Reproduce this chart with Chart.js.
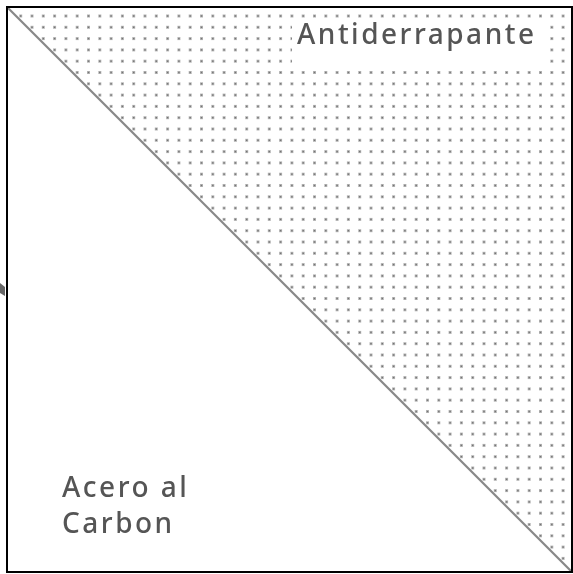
<!DOCTYPE html>
<html>
<head>
<meta charset="utf-8">
<script src="https://cdn.jsdelivr.net/npm/chart.js@4/dist/chart.umd.min.js"></script>
<style>
  html, body { margin: 0; padding: 0; background: #ffffff; }
  #wrap { width: 573px; height: 574px; }
</style>
</head>
<body>
<div id="wrap"><canvas id="c" width="573" height="574"></canvas></div>
<script>
// ---- data ----
const categories = ['Acero al Carbon', 'Antiderrapante'];
const boundaryX = [0, 1];   // diagonal dividing line, x
const boundaryY = [1, 0];   // diagonal dividing line, y
const labelLines = [['Acero al', 'Carbon'], ['Antiderrapante']];

// ---- dotted pattern texture ----
function makeDotPattern(ctx) {
  const pc = document.createElement('canvas');
  pc.width = 573; pc.height = 574;
  const p = pc.getContext('2d');
  const step = 11.3;
  for (let y = 16; y < 574; y += step) {
    for (let x = 20.7 - step * 2; x < 573; x += step) {
      p.fillStyle = 'rgba(150,150,150,0.7)';
      p.fillRect(x - 1.5, y - 1.5, 3, 3);
      p.fillStyle = 'rgba(110,110,110,0.9)';
      p.fillRect(x - 0.7, y - 0.7, 1.4, 1.4);
    }
  }
  return ctx.createPattern(pc, 'no-repeat');
}

const canvas = document.getElementById('c');
const ctx0 = canvas.getContext('2d');
const dotPattern = makeDotPattern(ctx0);

const frame = {
  id: 'frame',
  afterDatasetsDraw(chart) {
    const { ctx, chartArea: a } = chart;
    ctx.save();
    // label box for Antiderrapante
    ctx.fillStyle = '#ffffff';
    ctx.fillRect(292, 19, 250, 49);
    ctx.fillStyle = '#555555';
    ctx.font = '500 28px "Noto Sans"';
    ctx.letterSpacing = '2.5px';
    ctx.textBaseline = 'alphabetic';
    ctx.textAlign = 'left';
    ctx.fillText(labelLines[1][0], 297, 44);
    ctx.fillText(labelLines[0][0], 62, 497);
    ctx.fillText(labelLines[0][1], 62, 533);
    // outer frame
    ctx.strokeStyle = '#000000';
    ctx.lineWidth = 2;
    ctx.strokeRect(a.left, a.top, a.right - a.left, a.bottom - a.top);
    // small mark at left edge
    ctx.fillStyle = '#666666';
    ctx.beginPath();
    ctx.moveTo(0, 283); ctx.lineTo(5, 287); ctx.lineTo(5, 296); ctx.lineTo(0, 293);
    ctx.closePath(); ctx.fill();
    ctx.restore();
  }
};

new Chart(canvas, {
  type: 'scatter',
  data: {
    datasets: [{
      label: categories[1],
      data: boundaryX.map((x, i) => ({ x: x, y: boundaryY[i] })),
      showLine: true,
      fill: 'end',
      backgroundColor: dotPattern,
      borderColor: '#888888',
      borderWidth: 2.2,
      pointRadius: 0,
      pointHoverRadius: 0,
      tension: 0
    }]
  },
  options: {
    responsive: false,
    animation: false,
    events: [],
    layout: { padding: { left: 7, top: 7, right: 1, bottom: 2 } },
    plugins: { legend: { display: false }, tooltip: { enabled: false } },
    scales: {
      x: { type: 'linear', min: 0, max: 1, display: false },
      y: { type: 'linear', min: 0, max: 1, display: false }
    }
  },
  plugins: [frame]
});
</script>
</body>
</html>
